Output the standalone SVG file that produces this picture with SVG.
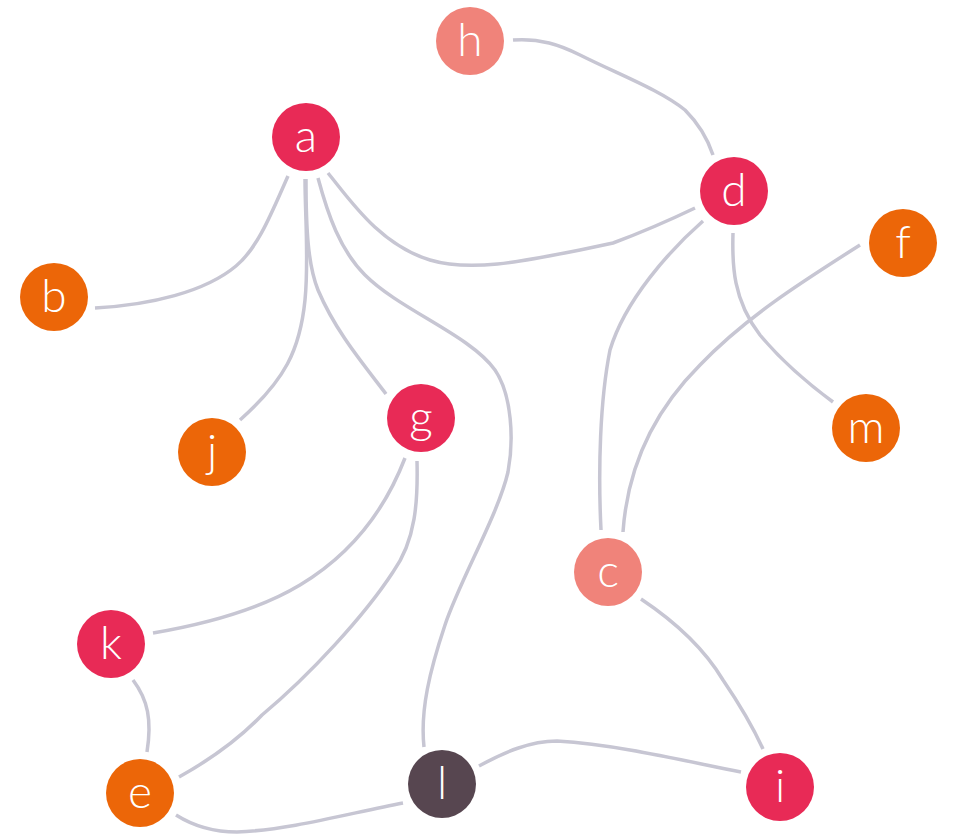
<svg xmlns="http://www.w3.org/2000/svg" width="953" height="835" viewBox="0 0 953 835">
<style>
.edge{fill:none;stroke:#C7C6D3;stroke-width:3.5;stroke-linecap:butt}
.crimson{fill:#E82A56}
.orange{fill:#EC6608}
.salmon{fill:#F0837A}
.dark{fill:#574650}
text{font-family:Lato,"Open Sans","Liberation Sans",sans-serif;font-weight:300;font-size:46px;fill:#ffffff;text-anchor:middle}
</style>
<rect width="953" height="835" fill="#ffffff"/>
<g id="edges">
<path class="edge" d="M288,176 C272,212 258,248 236,266 C205,292 150,305 95,308"/>
<path class="edge" d="M305,179 C305,215 309,260 305,300 C300,350 285,380 240,420"/>
<path class="edge" d="M306,179 C306,230 308,265 318,290 C335,330 360,360 386,394"/>
<path class="edge" d="M318,178 C328,215 340,250 365,275 C400,310 470,335 495,370 C512,395 514,440 508,472 C498,515 460,580 445,625 C430,670 420,710 424,747"/>
<path class="edge" d="M328,173 C350,200 380,245 430,260 C470,272 520,262 580,250 L613,243 C640,233 670,220 695,208"/>
<path class="edge" d="M513,40 C540,38 560,45 580,55 C620,75 660,90 685,110 C700,125 708,140 713,155"/>
<path class="edge" d="M703,221 C670,250 625,300 610,350 C600,400 598,470 601,530"/>
<path class="edge" d="M860,245 C800,283 745,318 700,365 C660,405 628,460 623,532"/>
<path class="edge" d="M733,233 C732,265 733,300 760,335 C785,365 810,385 833,402"/>
<path class="edge" d="M405,458 C385,510 350,555 300,585 C255,612 200,625 153,633"/>
<path class="edge" d="M417,461 C418,500 416,540 393,572 C365,615 310,675 262,715 C240,738 215,757 179,777"/>
<path class="edge" d="M133,680 C148,700 152,720 147,752"/>
<path class="edge" d="M176,815 C195,827 215,832 237,832 C290,830 350,813 403,803"/>
<path class="edge" d="M641,599 C680,625 705,650 723,680 C740,705 752,725 763,749"/>
<path class="edge" d="M479,766 C505,752 530,741 557,741 C620,745 680,760 741,772"/>
</g>
<g id="node-h"><circle class="salmon" cx="470" cy="41" r="34"/><text x="470" y="56">h</text></g>
<g id="node-a"><circle class="crimson" cx="306" cy="137" r="34"/><text x="306" y="152">a</text></g>
<g id="node-d"><circle class="crimson" cx="734" cy="191" r="34"/><text x="734" y="206">d</text></g>
<g id="node-f"><circle class="orange" cx="903" cy="243" r="34"/><text x="903" y="258">f</text></g>
<g id="node-b"><circle class="orange" cx="54" cy="297" r="34"/><text x="54" y="312">b</text></g>
<g id="node-j"><circle class="orange" cx="212" cy="452" r="34"/><text x="212" y="467">j</text></g>
<g id="node-g"><circle class="crimson" cx="421" cy="418" r="34"/><text x="421" y="433">g</text></g>
<g id="node-m"><circle class="orange" cx="866" cy="428" r="34"/><text x="866" y="443">m</text></g>
<g id="node-c"><circle class="salmon" cx="608" cy="572" r="34"/><text x="608" y="587">c</text></g>
<g id="node-k"><circle class="crimson" cx="111" cy="644" r="34"/><text x="111" y="659">k</text></g>
<g id="node-e"><circle class="orange" cx="140" cy="793" r="34"/><text x="140" y="808">e</text></g>
<g id="node-l"><circle class="dark" cx="442" cy="784" r="34"/><text x="442" y="799">l</text></g>
<g id="node-i"><circle class="crimson" cx="780" cy="787" r="34"/><text x="780" y="802">i</text></g>
</svg>
